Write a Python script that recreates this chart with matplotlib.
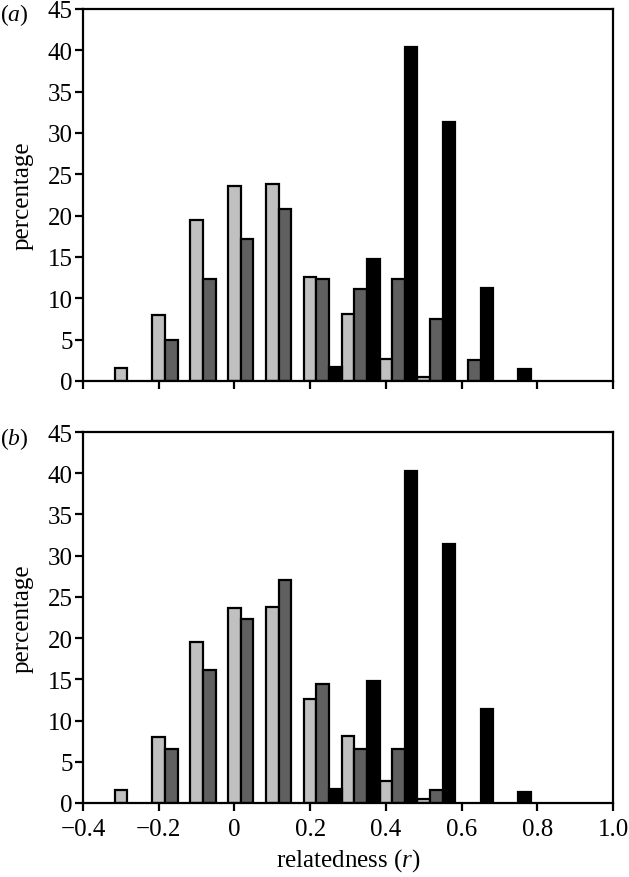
import matplotlib
matplotlib.use('Agg')
import matplotlib.pyplot as plt
import numpy as np

# relatedness bins (left edge of each group of three bars)
bins = [-0.3, -0.2, -0.1, 0.0, 0.1, 0.2, 0.3, 0.4, 0.5, 0.6, 0.7]

# panel (a)
a_light = [1.6, 8.0, 19.5, 23.6, 23.8, 12.6, 8.1, 2.7, 0.5, 0, 0]
a_dark = [0, 4.9, 12.3, 17.2, 20.8, 12.3, 11.1, 12.3, 7.5, 2.5, 0]
a_black = [0, 0, 0, 0, 0, 1.7, 14.7, 40.4, 31.3, 11.3, 1.4]

# panel (b)
b_light = [1.6, 8.0, 19.5, 23.6, 23.8, 12.6, 8.1, 2.7, 0.5, 0, 0]
b_dark = [0, 6.5, 16.1, 22.3, 27.1, 14.4, 6.5, 6.5, 1.6, 0, 0]
b_black = [0, 0, 0, 0, 0, 1.7, 14.8, 40.3, 31.4, 11.4, 1.3]

xticks = [-0.4, -0.2, 0, 0.2, 0.4, 0.6, 0.8, 1.0]
xticklabels = ['\u22120.4', '\u22120.2', '0', '0.2', '0.4', '0.6', '0.8', '1.0']
yticks = [0, 5, 10, 15, 20, 25, 30, 35, 40, 45]

plt.rcParams['font.family'] = ['Liberation Serif', 'DejaVu Serif']
plt.rcParams['font.size'] = 18
plt.rcParams['mathtext.fontset'] = 'custom'
plt.rcParams['mathtext.rm'] = 'Liberation Serif'
plt.rcParams['mathtext.it'] = 'Liberation Serif:italic'

fig = plt.figure(figsize=(6.29, 8.78), dpi=100)
ax_a = fig.add_axes([0.132, 0.565, 0.8426, 0.4237])
ax_b = fig.add_axes([0.132, 0.0843, 0.8426, 0.4225])

w = 0.1 / 3
colors = ['#c0c0c0', '#606060', '#000000']


def draw(ax, series, label, show_x):
    x = np.array(bins)
    for i, (vals, c) in enumerate(zip(series, colors)):
        vals = np.array(vals, dtype=float)
        keep = vals > 0
        ax.bar(x[keep] + i * w, vals[keep], width=w, color=c,
               edgecolor='black', linewidth=1.6, zorder=2)
    ax.set_xlim(-0.4, 1.0)
    ax.set_ylim(0, 45)
    ax.set_yticks(yticks)
    ax.set_xticks(xticks)
    if show_x:
        ax.set_xticklabels(xticklabels)
        ax.set_xlabel('relatedness ($\\mathit{r}$)', labelpad=5)
    else:
        ax.set_xticklabels([])
    ax.set_ylabel('percentage', labelpad=10)
    for s in ax.spines.values():
        s.set_linewidth(1.6)
    ax.tick_params(direction='out', length=5.5, width=1.6)
    ax.tick_params(axis='y', pad=2)
    ax.tick_params(axis='x', pad=5)
    ax.text(-0.157, 0.985, label, transform=ax.transAxes, fontsize=17,
            va='center', ha='left')


draw(ax_a, [a_light, a_dark, a_black], '($\\mathit{a}$)', False)
draw(ax_b, [b_light, b_dark, b_black], '($\\mathit{b}$)', True)

fig.savefig('out.png', dpi=100)
